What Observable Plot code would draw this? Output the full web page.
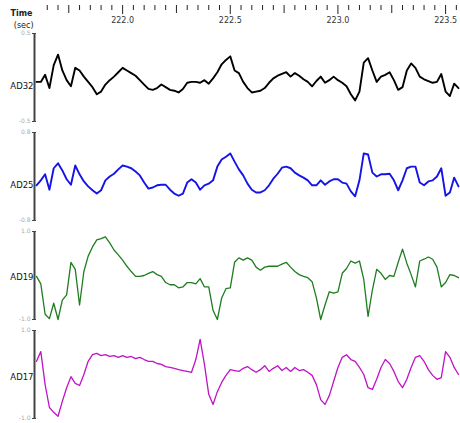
<!DOCTYPE html>
<html><head><meta charset="utf-8">
<script src="https://cdn.jsdelivr.net/npm/d3@7"></script>
<script src="https://cdn.jsdelivr.net/npm/@observablehq/plot@0.6"></script>
<style>
html,body{margin:0;padding:0;background:#fff;overflow:hidden}
#chart svg{display:block}
</style>
</head><body><div id="chart"></div>
<script>
// ---- data ----
const time = [221.60,221.62,221.64,221.66,221.68,221.70,221.72,221.74,221.76,221.78,
221.80,221.82,221.84,221.86,221.88,221.90,221.92,221.94,221.96,221.98,
222.00,222.02,222.04,222.06,222.08,222.10,222.12,222.14,222.16,222.18,
222.20,222.22,222.24,222.26,222.28,222.30,222.32,222.34,222.36,222.38,
222.40,222.42,222.44,222.46,222.48,222.50,222.52,222.54,222.56,222.58,
222.60,222.62,222.64,222.66,222.68,222.70,222.72,222.74,222.76,222.78,
222.80,222.82,222.84,222.86,222.88,222.90,222.92,222.94,222.96,222.98,
223.00,223.02,223.04,223.06,223.08,223.10,223.12,223.14,223.16,223.18,
223.20,223.22,223.24,223.26,223.28,223.30,223.32,223.34,223.36,223.38,
223.40,223.42,223.44,223.46,223.48,223.50,223.52,223.54,223.56];

const ad32 = [-0.05,-0.05,0.03,-0.12,0.14,0.26,0.08,-0.03,-0.10,0.11,
0.08,0.01,-0.05,-0.11,-0.19,-0.16,-0.08,-0.03,0.01,0.06,
0.11,0.08,0.05,0.02,-0.03,-0.08,-0.13,-0.14,-0.12,-0.08,
-0.11,-0.14,-0.15,-0.17,-0.13,-0.06,-0.05,-0.05,-0.06,-0.03,
-0.07,-0.01,0.06,0.15,0.20,0.24,0.08,0.05,-0.05,-0.12,
-0.17,-0.16,-0.15,-0.12,-0.06,-0.01,0.02,0.04,0.06,0.01,
0.05,0.02,-0.02,-0.05,-0.10,-0.04,0.01,-0.06,-0.03,0.01,
-0.03,-0.06,-0.10,-0.19,-0.26,-0.16,0.17,0.22,0.08,-0.05,
0.01,0.03,0.06,-0.03,-0.14,-0.11,0.08,0.16,0.11,0.01,
-0.02,-0.04,-0.06,-0.05,0.04,-0.16,-0.21,-0.07,-0.12];

const ad25 = [-0.16,-0.07,0.04,-0.24,0.15,0.24,0.11,-0.05,-0.15,0.20,
0.04,-0.09,-0.18,-0.25,-0.31,-0.25,-0.07,0.00,0.05,0.13,
0.20,0.18,0.15,0.09,0.02,-0.11,-0.22,-0.20,-0.16,-0.15,
-0.15,-0.24,-0.31,-0.35,-0.31,-0.11,-0.05,-0.11,-0.24,-0.16,
-0.13,-0.07,0.18,0.31,0.36,0.42,0.27,0.13,0.02,-0.13,
-0.24,-0.29,-0.29,-0.25,-0.16,-0.04,0.05,0.16,0.18,0.15,
0.07,0.02,-0.02,-0.07,-0.16,-0.16,-0.07,-0.15,-0.09,-0.05,
-0.05,-0.11,-0.13,-0.27,-0.36,-0.07,0.42,0.40,0.07,0.00,
0.04,0.04,0.05,-0.07,-0.25,-0.07,0.15,0.18,0.18,-0.11,
-0.16,-0.09,-0.07,0.00,0.15,-0.35,-0.29,-0.02,-0.18];

const ad19 = [-0.02,-0.19,-0.88,-0.98,-0.63,-1.00,-0.56,-0.44,0.30,0.14,
-0.67,0.09,0.44,0.65,0.81,0.84,0.88,0.74,0.58,0.47,
0.35,0.21,0.09,-0.02,-0.02,0.00,0.05,0.09,0.02,-0.02,
-0.16,-0.21,-0.21,-0.28,-0.26,-0.16,-0.16,-0.19,-0.07,-0.26,
-0.26,-0.79,-1.00,-0.51,-0.30,-0.28,0.30,0.40,0.35,0.40,
0.35,0.19,0.12,0.19,0.21,0.21,0.21,0.26,0.30,0.19,
0.09,0.02,-0.02,-0.05,-0.14,-0.51,-1.00,-0.67,-0.37,-0.40,
-0.37,0.05,0.16,0.33,0.28,0.33,-0.09,-0.93,-0.33,0.14,
0.05,-0.09,0.00,-0.02,0.30,0.60,0.28,0.02,-0.26,0.33,
0.37,0.42,0.37,0.19,-0.26,-0.16,0.02,0.00,-0.05];

const ad17 = [0.30,0.52,-0.23,-0.75,-0.86,-0.95,-0.61,-0.30,-0.05,-0.20,
-0.25,0.00,0.30,0.45,0.48,0.43,0.45,0.41,0.43,0.39,
0.43,0.39,0.41,0.36,0.39,0.34,0.30,0.30,0.25,0.23,
0.18,0.16,0.14,0.11,0.09,0.07,0.05,0.34,0.80,0.23,
-0.45,-0.68,-0.39,-0.18,-0.02,0.11,0.09,0.07,0.14,0.18,
0.11,0.05,0.11,0.20,0.07,0.14,0.20,0.09,0.16,0.07,
0.16,0.09,0.11,0.05,-0.02,-0.23,-0.57,-0.68,-0.48,-0.16,
0.16,0.39,0.45,0.34,0.30,0.16,0.00,-0.30,-0.34,-0.11,
0.16,0.34,0.25,0.07,-0.16,-0.30,-0.11,0.16,0.39,0.43,
0.30,0.11,-0.02,-0.11,-0.07,0.52,0.39,0.16,0.00];

const channelNames = ["AD32", "AD25", "AD19", "AD17"];
const channelRanges = [0.5, 0.8, 1.0, 1.0];
const channelTickLabels = [["0.5", "-0.5"], ["0.8", "-0.8"], ["1.0", "-1.0"], ["1.0", "-1.0"]];
const majorTicks = [222.0, 222.5, 223.0, 223.5];
const majorTickLabels = ["222.0", "222.5", "223.0", "223.5"];
const mediumTicks = [221.75, 222.25, 222.75, 223.25];
const axisTitle = ["Time", "(sec)"];

// ---- rendering ----
const W = 460, ML = 36, MR = 2;
const xDomain = [221.6, 223.56];
const font = "DejaVu Sans, sans-serif";
const minorTicks = d3.range(221.65, 223.56, 0.05).map(d => +d.toFixed(2))
  .filter(d => !majorTicks.includes(d) && !mediumTicks.includes(d));

const chart = document.getElementById("chart");

const topAxis = Plot.plot({
  width: W, height: 31, marginLeft: ML, marginRight: MR, marginTop: 0, marginBottom: 26,
  style: {fontFamily: font, background: "#fff", overflow: "visible"},
  x: {domain: xDomain},
  marks: [
    Plot.axisX(minorTicks, {anchor: "bottom", tickSize: 5, tickFormat: () => "", stroke: "#222", strokeWidth: 1}),
    Plot.axisX(mediumTicks, {anchor: "bottom", tickSize: 8, tickFormat: () => "", stroke: "#222", strokeWidth: 1}),
    Plot.axisX(majorTicks, {anchor: "bottom", tickSize: 9, tickPadding: 3, fontSize: 8,
      tickFormat: d => majorTickLabels[majorTicks.indexOf(d)], stroke: "#222", fill: "#333", strokeWidth: 1}),
    Plot.text([axisTitle[0]], {frameAnchor: "top-left", dx: -4, dy: 10, textAnchor: "end", fontSize: 8, fontWeight: "bold", fill: "#222"}),
    Plot.text([axisTitle[1]], {frameAnchor: "top-left", dx: -3, dy: 22, textAnchor: "end", fontSize: 8, fill: "#222"})
  ]
});
chart.appendChild(topAxis);

const panels = [
  {values: ad32, color: "#000000", sw: 1.9, h: 99, labelDy: 9},
  {values: ad25, color: "#1414e6", sw: 1.9, h: 99, labelDy: 9},
  {values: ad19, color: "#1e7d1e", sw: 1.3, h: 99, labelDy: 2},
  {values: ad17, color: "#c012c6", sw: 1.3, h: 94, labelDy: 3}
];

panels.forEach((p, i) => {
  const a = channelRanges[i];
  const labels = channelTickLabels[i];
  const svg = Plot.plot({
    width: W, height: p.h, marginLeft: ML, marginRight: MR, marginTop: 2, marginBottom: p.h - 90,
    style: {fontFamily: font, background: "#fff", overflow: "visible"},
    x: {domain: xDomain, axis: null},
    y: {domain: [-a, a]},
    marks: [
      Plot.axisY([a, -a], {anchor: "left", tickSize: 4, tickPadding: 2, fontSize: 6,
        tickFormat: d => labels[d > 0 ? 0 : 1], stroke: "#444", fill: "#aaa"}),
      Plot.ruleX([xDomain[0]], {dx: -2, stroke: "#444", strokeWidth: 2}),
      Plot.lineY(p.values, {x: time, y: p.values, stroke: p.color, strokeWidth: p.sw, strokeLinejoin: "round"}),
      Plot.text([channelNames[i]], {frameAnchor: "left", dx: -3, dy: p.labelDy, textAnchor: "end", fontSize: 8.5, fill: "#111"})
    ]
  });
  chart.appendChild(svg);
});
</script>
</body></html>
